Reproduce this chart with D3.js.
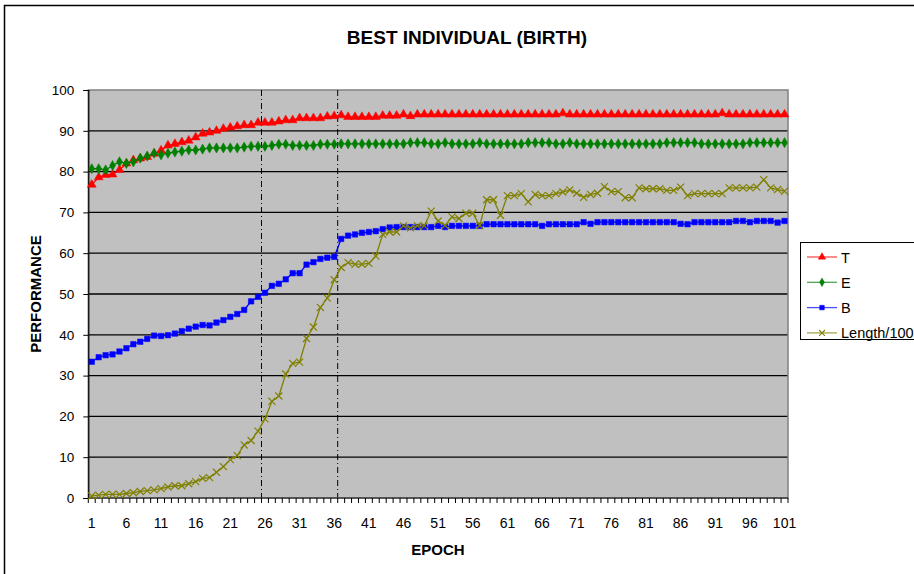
<!DOCTYPE html>
<html><head><meta charset="utf-8">
<script src="https://cdn.jsdelivr.net/npm/d3@7"></script>
<style>body{margin:0;background:#fff}svg{display:block}text{font-family:"Liberation Sans",Arial,sans-serif}</style>
</head><body><svg id="c" width="914" height="574"></svg>
<script>
const epochs = d3.range(1, 102);
const seriesT = [76.8,78.6,79.2,79.3,80.4,82.0,82.8,83.2,83.6,84.4,85.2,86.4,86.8,87.2,87.6,88.4,89.3,89.6,90.0,90.5,
 90.8,91.1,91.4,91.4,92.0,92.0,92.0,92.3,92.6,92.6,93.1,93.1,93.1,93.1,93.5,93.6,93.8,93.4,93.4,93.4,
 93.4,93.4,93.7,93.7,93.7,94.0,93.6,94.0,94.0,94.0,94.0,94.0,94.0,94.0,94.0,94.0,94.0,94.0,94.0,94.0,
 94.0,94.0,94.0,94.0,94.0,94.0,94.0,94.0,94.3,94.0,94.0,94.0,94.0,94.0,94.0,94.0,94.0,94.0,94.0,94.0,
 94.0,94.0,94.0,94.0,94.0,94.0,94.0,94.0,94.0,94.0,94.0,94.3,94.0,94.0,94.0,94.0,94.0,94.0,94.0,94.0,94.0];
const seriesE = [80.7,80.7,80.4,81.5,82.4,82.0,82.4,83.3,83.8,84.5,84.1,84.5,84.8,85.0,85.3,85.3,85.5,85.8,85.8,85.8,
 85.8,85.8,86.0,86.2,86.2,86.2,86.4,86.7,86.7,86.4,86.4,86.4,86.4,86.7,86.7,86.7,86.8,86.8,86.8,86.8,
 86.8,86.8,86.8,86.8,86.8,86.8,87.1,87.1,87.1,86.8,86.8,87.1,86.8,86.8,86.8,86.8,87.1,86.8,86.8,86.8,
 86.8,86.8,86.8,87.1,87.1,87.1,87.1,86.8,86.8,87.1,86.8,86.8,86.8,86.8,86.8,86.8,86.8,86.8,86.8,86.8,
 86.8,86.8,86.8,87.1,87.1,87.1,87.1,87.1,86.8,86.8,86.8,86.8,86.8,86.8,86.8,87.1,87.1,87.1,87.1,87.1,87.1];
const seriesB = [33.4,34.5,35.0,35.2,35.9,36.7,37.7,38.3,39.0,39.8,39.7,39.9,40.3,40.9,41.5,42.0,42.4,42.3,43.0,43.6,
 44.4,45.1,46.1,48.2,49.3,50.3,52.0,52.5,53.6,55.1,55.1,57.2,57.8,58.6,58.9,59.1,63.5,64.3,64.6,65.0,
 65.2,65.4,65.9,66.3,66.4,66.4,66.4,66.4,66.4,66.4,66.7,66.4,66.7,66.7,66.7,66.7,66.7,67.1,67.1,67.1,
 67.1,67.1,67.1,67.1,67.1,66.7,67.1,67.1,67.1,67.1,67.1,67.6,67.2,67.6,67.6,67.6,67.6,67.6,67.6,67.6,
 67.6,67.6,67.6,67.6,67.6,67.2,67.1,67.6,67.6,67.6,67.6,67.6,67.6,67.9,67.9,67.6,67.9,67.9,67.9,67.5,67.9];
const seriesLength = [0.5,0.7,0.9,0.9,0.9,1.1,1.3,1.6,1.8,2.0,2.3,2.7,3.0,3.0,3.5,4.0,4.8,5.0,6.3,7.7,
 9.4,10.4,13.0,14.1,16.4,19.4,23.7,25.0,30.4,33.0,33.3,39.1,41.9,46.7,49.0,53.5,56.5,57.7,57.3,57.3,
 57.5,59.3,64.6,65.2,65.2,66.7,66.2,66.7,66.7,70.3,67.9,66.8,68.9,68.5,69.8,69.8,66.8,73.1,73.1,69.3,
 74.1,74.1,74.6,72.6,74.4,74.1,74.1,74.6,75.0,75.5,74.7,73.7,74.4,74.7,76.3,75.1,75.1,73.6,73.6,76.0,
 75.8,75.8,75.8,75.4,75.4,76.2,74.1,74.6,74.6,74.6,74.6,74.6,76.0,76.0,76.0,76.0,76.2,78.0,76.0,75.6,75.2];
const seriesNames = ["T","E","B","Length/100"];
const yTicks = d3.range(0, 101, 10);
const xTickLabels = d3.range(1, 102, 5);
const markerEpochs = [26, 37];

const svg = d3.select("#c");
const L = 88.3, R = 788, T = 90, B = 498;
const x = d3.scaleBand().domain(epochs).range([L, R]).padding(0);
const y = d3.scaleLinear().domain([0, 100]).range([B, T]);
const cx = d => x(d) + x.bandwidth() / 2;

// outer frame
svg.append("rect").attr("x", 4.5).attr("y", 5.5).attr("width", 1000).attr("height", 1000)
  .attr("fill", "#fff").attr("stroke", "#000").attr("stroke-width", 1.5);

// plot area
svg.append("rect").attr("x", L).attr("y", T).attr("width", R - L).attr("height", B - T).attr("fill", "#c0c0c0");
svg.append("g").selectAll("line").data(yTicks.filter(v => v > 0 && v < 100)).join("line")
  .attr("x1", L).attr("x2", R).attr("y1", d => y(d)).attr("y2", d => y(d))
  .attr("stroke", "#000").attr("stroke-width", 1.3);
svg.append("rect").attr("x", L).attr("y", T).attr("width", R - L).attr("height", B - T)
  .attr("fill", "none").attr("stroke", "#808080").attr("stroke-width", 1.5);

// vertical markers
svg.append("g").selectAll("line").data(markerEpochs).join("line")
  .attr("x1", d => x(d)).attr("x2", d => x(d)).attr("y1", T).attr("y2", B)
  .attr("stroke", "#000").attr("stroke-width", 1).attr("stroke-dasharray", "6,3,1,3");

// axes
const yAxis = svg.append("g").attr("transform", `translate(${L},0)`)
  .call(d3.axisLeft(y).tickValues(yTicks).tickSize(5).tickPadding(9));
yAxis.select(".domain").attr("stroke", "#000").attr("stroke-width", 1.2);
yAxis.selectAll("text").attr("font-size", 13.5).attr("fill", "#000").attr("font-family", "Liberation Sans, Arial, sans-serif");

const xg = svg.append("g");
xg.append("line").attr("x1", L).attr("x2", R).attr("y1", B).attr("y2", B).attr("stroke", "#404040").attr("stroke-width", 1.5);
const edges = epochs.map(d => x(d)).concat([R]);
xg.selectAll("line.t").data(edges).join("line").attr("class", "t")
  .attr("x1", d => d).attr("x2", d => d).attr("y1", B).attr("y2", B + 5).attr("stroke", "#000");
xg.selectAll("text").data(xTickLabels).join("text")
  .attr("x", d => cx(d)).attr("y", B + 30).attr("text-anchor", "middle")
  .attr("font-size", 14).text(d => d);

// titles
svg.append("text").attr("x", 467).attr("y", 44).attr("text-anchor", "middle")
  .attr("font-size", 19).attr("font-weight", "bold").text("BEST INDIVIDUAL (BIRTH)");
svg.append("text").attr("x", 438).attr("y", 555).attr("text-anchor", "middle")
  .attr("font-size", 15).attr("font-weight", "bold").text("EPOCH");
svg.append("text").attr("transform", `translate(41,294) rotate(-90)`).attr("text-anchor", "middle")
  .attr("font-size", 15).attr("font-weight", "bold").text("PERFORMANCE");

// series
const cfg = [
  {name: seriesNames[0], data: seriesT, color: "#ff0000", sym: d3.symbolTriangle, size: 34},
  {name: seriesNames[1], data: seriesE, color: "#008000", sym: d3.symbolDiamond, size: 30},
  {name: seriesNames[2], data: seriesB, color: "#0000ff", sym: d3.symbolSquare, size: 30},
  {name: seriesNames[3], data: seriesLength, color: "#808000", sym: d3.symbolTimes, size: 34}
];
const line = d3.line().x((d, i) => cx(epochs[i])).y(d => y(d));
const plot = svg.append("g");
cfg.forEach(s => {
  const g = plot.append("g");
  g.append("path").attr("d", line(s.data)).attr("fill", "none").attr("stroke", s.color).attr("stroke-width", 1.3);
  const sym = d3.symbol().type(s.sym).size(s.size);
  g.selectAll("path.m").data(s.data).join("path").attr("class", "m")
    .attr("transform", (d, i) => `translate(${cx(epochs[i])},${y(d)})`)
    .attr("d", sym())
    .attr("fill", s.sym === d3.symbolTimes ? "none" : s.color)
    .attr("stroke", s.color).attr("stroke-width", s.sym === d3.symbolTimes ? 1.2 : 0.5);
});

// legend
const lg = svg.append("g");
lg.append("rect").attr("x", 800.5).attr("y", 242.5).attr("width", 200).attr("height", 97)
  .attr("fill", "#fff").attr("stroke", "#000").attr("stroke-width", 1);
cfg.forEach((s, i) => {
  const yy = 257 + i * 25.3;
  lg.append("line").attr("x1", 807).attr("x2", 837).attr("y1", yy).attr("y2", yy).attr("stroke", s.color).attr("stroke-width", 1.3).attr("stroke-opacity", 0.7);
  lg.append("path").attr("transform", `translate(822,${yy})`).attr("d", d3.symbol().type(s.sym).size(s.size * 0.7)())
    .attr("fill", s.sym === d3.symbolTimes ? "none" : s.color).attr("stroke", s.color).attr("stroke-width", s.sym === d3.symbolTimes ? 1.1 : 0.5);
  lg.append("text").attr("x", 841).attr("y", yy + 5.5).attr("font-size", 14.5).text(s.name);
});
</script></body></html>
